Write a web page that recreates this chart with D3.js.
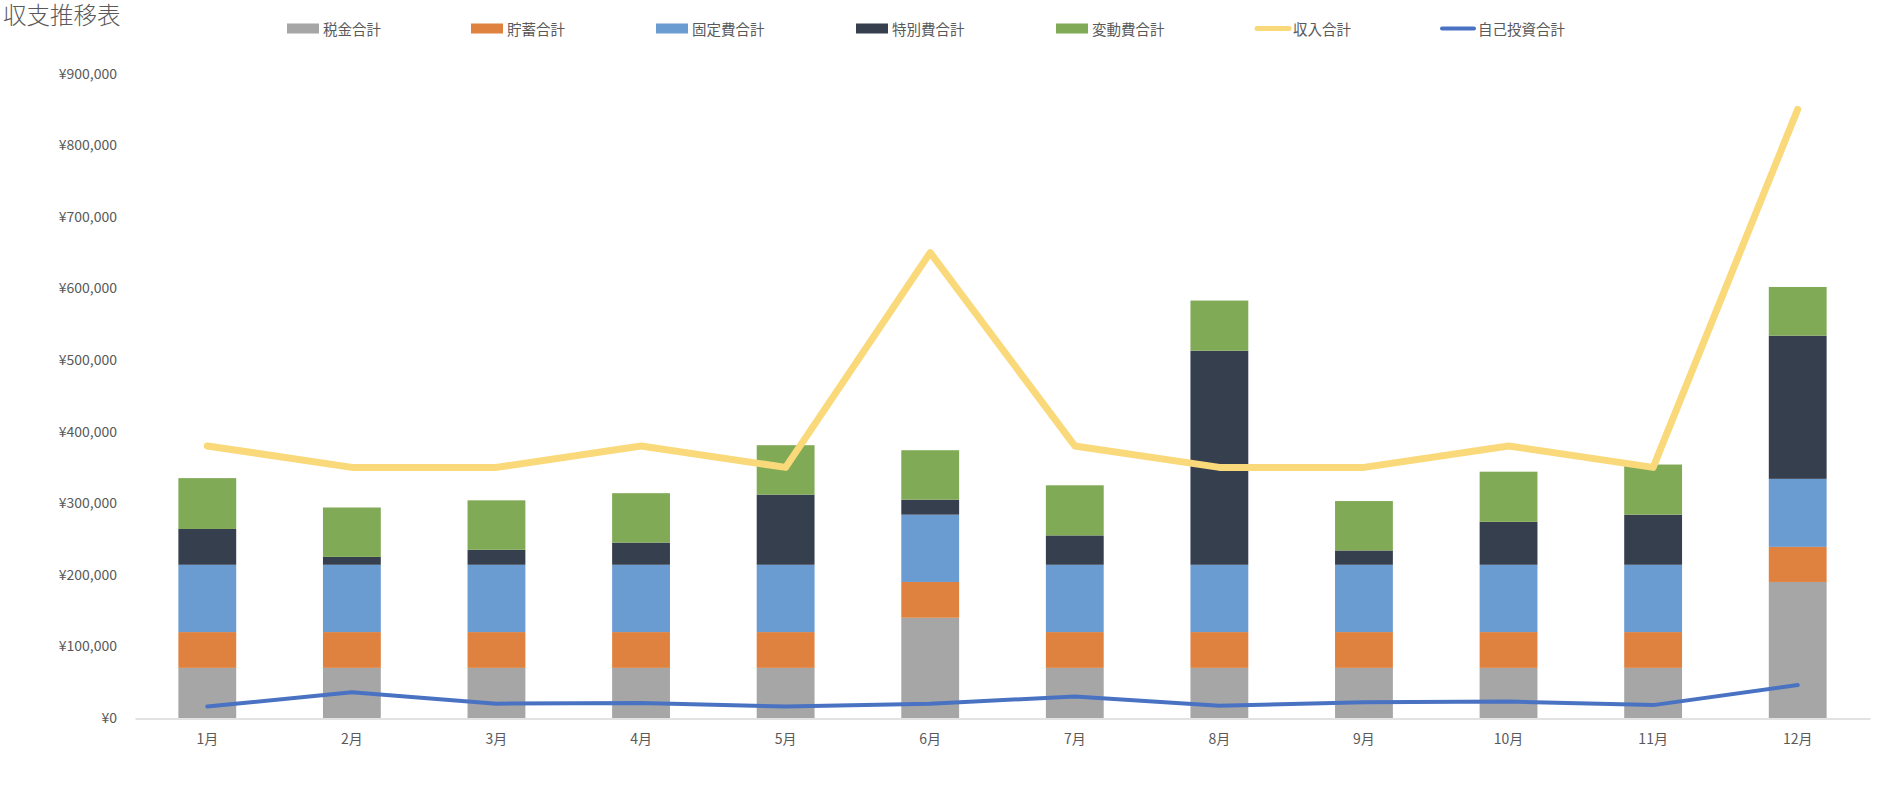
<!DOCTYPE html>
<html>
<head>
<meta charset="utf-8">
<script src="https://cdn.jsdelivr.net/npm/d3@7"></script>
<style>
  body { margin: 0; background: #fff; }
  text { font-family: "Noto Sans CJK JP", "Noto Sans", sans-serif; fill: #595959; }
</style>
</head>
<body>
<div class="chart"></div>
<script>
// ---- data ----
let months = ["1月","2月","3月","4月","5月","6月","7月","8月","9月","10月","11月","12月"]
let tax      = [70000,70000,70000,70000,70000,140000,70000,70000,70000,70000,70000,190000]
let savings  = [50000,50000,50000,50000,50000,50000,50000,50000,50000,50000,50000,49000]
let fixed    = [94000,94000,94000,94000,94000,94000,94000,94000,94000,94000,94000,95000]
let special  = [50000,11000,21000,31000,98000,21000,41000,299000,20000,60000,70000,200000]
let variable = [71000,69000,69000,69000,69000,69000,70000,70000,69000,70000,70000,68000]
let income   = [380000,350000,350000,380000,350000,650000,380000,350000,350000,380000,350000,850000]
let selfInv  = [16000,36000,20000,21000,16000,20000,30000,17000,22000,23000,18000,46000]
let yTicks   = [0,100000,200000,300000,400000,500000,600000,700000,800000,900000]

let barKeys   = ["税金合計","貯蓄合計","固定費合計","特別費合計","変動費合計"]
let barSeries = [tax, savings, fixed, special, variable]
let barColors = ["#a6a6a6","#e0823f","#6a9bd1","#363f4e","#80aa55"]

let w = 1888
let h = 798

// table for the stack
let table = months.map((m,i)=>{
  let row = {month:m}
  barKeys.forEach((k,j)=>{ row[k] = barSeries[j][i] })
  return row
})

let svg = d3.select(".chart")
  .append("svg")
  .attr("width",w)
  .attr("height",h)

const xScale = d3.scaleBand()
  .domain(months)
  .range([135,1870])
  .paddingInner(0.6)
  .paddingOuter(0.3)

const yScale = d3.scaleLinear()
  .domain([0,900000])
  .range([718,73.6])

// title
svg.append("text")
  .text("収支推移表")
  .attr("x",3)
  .attr("y",24)
  .style("font-size","23.5px")
  .style("font-weight","300")

// y axis (labels only)
let yAxis = d3.axisLeft(yScale)
  .tickValues(yTicks)
  .tickSize(0)
  .tickPadding(18)
  .tickFormat((d)=>"¥"+d3.format(",")(d))

svg.append("g")
  .attr("transform","translate(135,0)")
  .call(yAxis)
  .call(g=>g.select(".domain").remove())
  .selectAll("text")
    .style("font-size","14px")
    .style("fill","#595959")
    .style("font-family",null)

// stacked bars
let stacked = d3.stack().keys(barKeys)(table)

svg.selectAll(".layer")
  .data(stacked)
  .enter()
  .append("g")
    .attr("class","layer")
    .style("fill",(d,i)=>barColors[i])
  .selectAll("rect")
  .data((d)=>d)
  .enter()
  .append("rect")
    .attr("x",(d)=>xScale(d.data.month))
    .attr("width",xScale.bandwidth())
    .attr("y",(d)=>yScale(d[1]))
    .attr("height",(d)=>yScale(d[0])-yScale(d[1]))

// x axis
let xAxis = d3.axisBottom(xScale)
  .tickSize(0)
  .tickPadding(16)

svg.append("g")
  .attr("transform","translate(0,718.5)")
  .call(xAxis)
  .call(g=>g.select(".domain").attr("stroke","#d9d9d9").attr("stroke-width",1.5))
  .selectAll("text")
    .style("font-size","14px")
    .style("fill","#595959")
    .style("font-family",null)

// lines
let cx = (i)=>xScale(months[i])+xScale.bandwidth()/2
let line = d3.line()
  .x((d,i)=>cx(i))
  .y((d)=>yScale(d))

svg.append("path")
  .datum(income)
  .attr("d",line)
  .attr("fill","none")
  .attr("stroke","#f9d97a")
  .attr("stroke-width",7)
  .attr("stroke-linecap","round")
  .attr("stroke-linejoin","round")

svg.append("path")
  .datum(selfInv)
  .attr("d",line)
  .attr("fill","none")
  .attr("stroke","#4a72c2")
  .attr("stroke-width",4)
  .attr("stroke-linecap","round")
  .attr("stroke-linejoin","round")

// legend
let legendItems = [
  {name:"税金合計", color:barColors[0], type:"rect", x:287},
  {name:"貯蓄合計", color:barColors[1], type:"rect", x:471},
  {name:"固定費合計", color:barColors[2], type:"rect", x:656},
  {name:"特別費合計", color:barColors[3], type:"rect", x:856},
  {name:"変動費合計", color:barColors[4], type:"rect", x:1056},
  {name:"収入合計", color:"#f9d97a", type:"line", x:1255},
  {name:"自己投資合計", color:"#4a72c2", type:"line", x:1440}
]
let legendY = 28.5

let leg = svg.selectAll(".legend")
  .data(legendItems)
  .enter()
  .append("g")
  .attr("class","legend")
  .attr("transform",(d)=>"translate("+d.x+","+legendY+")")

leg.filter((d)=>d.type==="rect")
  .append("rect")
  .attr("x",0).attr("y",-5).attr("width",32).attr("height",10)
  .style("fill",(d)=>d.color)

leg.filter((d)=>d.type==="line")
  .append("line")
  .attr("x1",2).attr("x2",34).attr("y1",0).attr("y2",0)
  .attr("stroke",(d)=>d.color)
  .attr("stroke-width",(d)=>d.name==="収入合計"?5:4)
  .attr("stroke-linecap","round")

leg.append("text")
  .text((d)=>d.name)
  .attr("x",(d)=>d.type==="rect"?36:38)
  .attr("y",0)
  .attr("dominant-baseline","central")
  .style("font-size","14.5px")
</script>
</body>
</html>
